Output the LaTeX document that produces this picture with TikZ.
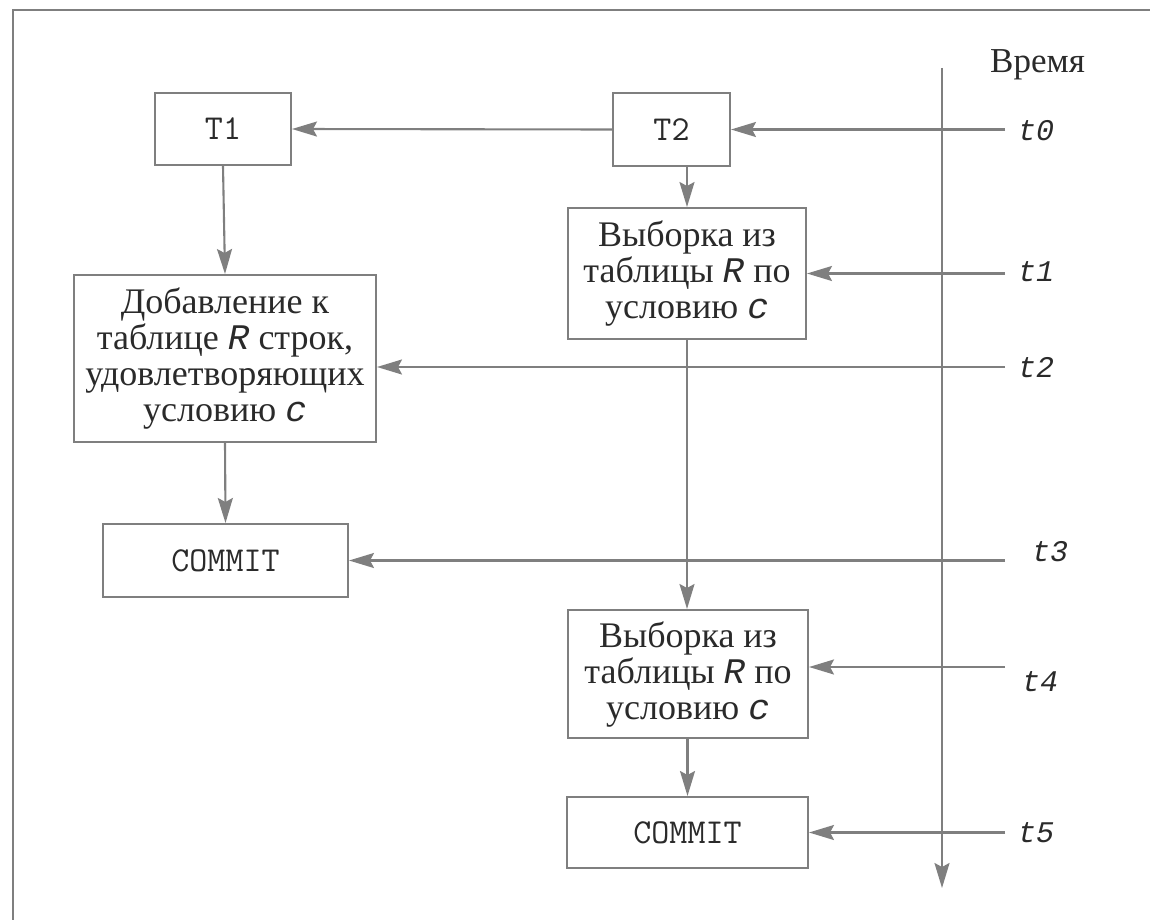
\documentclass[tikz,border=0pt]{standalone}
\usepackage{fontspec}
\setmainfont{Liberation Serif}
\newfontfamily\lmono{Liberation Mono}
\usetikzlibrary{arrows.meta}
\definecolor{ln}{HTML}{7F7F7F}
\definecolor{tx}{HTML}{2A2A2A}
\newcommand{\vr}[1]{{\lmono\itshape #1}}
\begin{document}
\begin{tikzpicture}[x=1pt,y=-1pt,
  box/.style={draw=ln, line width=2pt, rectangle, inner sep=0pt, align=center, text=tx,
    font=\fontsize{36}{36}\selectfont},
  mbox/.style={box, font=\ttfamily\fontsize{35}{36}\selectfont},
  tlab/.style={anchor=west, inner sep=0pt, text=tx, font=\lmono\itshape\fontsize{30}{32}\selectfont},
  conn/.style={draw=ln, line width=2.1pt, -{Stealth[length=25pt,width=15pt,inset=4pt]}}
]
\useasboundingbox (0,0) rectangle (1150,920);
\draw[ln, line width=2pt] (13,920) -- (13,10) -- (1150,10);

\node[mbox, minimum width=136pt, minimum height=72pt] (T1) at (223,129) {T1};
\node[mbox, minimum width=117pt, minimum height=73pt] (T2) at (671.5,129.5) {T2};
\node[box, minimum width=238pt, minimum height=131pt] (S1) at (687,273.5)
  {Выборка из\\таблицы \vr{R} по\\условию \vr{c}};
\node[box, minimum width=302pt, minimum height=167pt] (A) at (225,358.5)
  {Добавление к\\таблице \vr{R} строк,\\удовлетворяющих\\условию \vr{c}};
\node[mbox, minimum width=245pt, minimum height=73pt] (C1) at (225.5,560.5) {COMMIT};
\node[box, minimum width=240pt, minimum height=128pt] (S2) at (688,674)
  {Выборка из\\таблицы \vr{R} по\\условию \vr{c}};
\node[mbox, minimum width=241pt, minimum height=71pt] (C2) at (687.5,832.5) {COMMIT};

\node[anchor=base west, inner sep=0pt, text=tx, font=\fontsize{35}{36}\selectfont] (time) at (990,73) {Время};
\coordinate (ttop) at (942,68);
\coordinate (tbot) at (942,888);
\draw[conn] (ttop) -- (tbot);

\node[tlab] (t0) at (1018,131) {t0};
\node[tlab] (t1) at (1018,272) {t1};
\node[tlab] (t2) at (1018,368) {t2};
\node[tlab] (t3) at (1032,552) {t3};
\node[tlab] (t4) at (1022,682) {t4};
\node[tlab] (t5) at (1018,833) {t5};

\draw[conn] ([xshift=-13pt]t0.west |- T2.east) -- (T2.east);
\draw[conn] (T2.west) -- (T1.east);
\draw[conn] ([xshift=-13pt]t1.west |- S1.east) -- (S1.east);
\draw[conn] ([xshift=-13pt]t2.west |- 0,367) -- (A.east |- 0,367);
\draw[conn] ([xshift=-27pt]t3.west |- C1.east) -- (C1.east);
\draw[conn] ([xshift=-17pt]t4.west |- 0,667) -- (S2.east |- 0,667);
\draw[conn] ([xshift=-13pt]t5.west |- C2.east) -- (C2.east);

\draw[conn] (T1.south) -- (A.north);
\draw[conn] (A.south) -- (C1.south |- C1.north);
\draw[conn] (T2.south -| S1.north) -- (S1.north);
\draw[conn] (S1.south) -- (S1.south |- S2.north);
\draw[conn] (S2.south -| C2.north) -- (C2.north);
\end{tikzpicture}
\end{document}
